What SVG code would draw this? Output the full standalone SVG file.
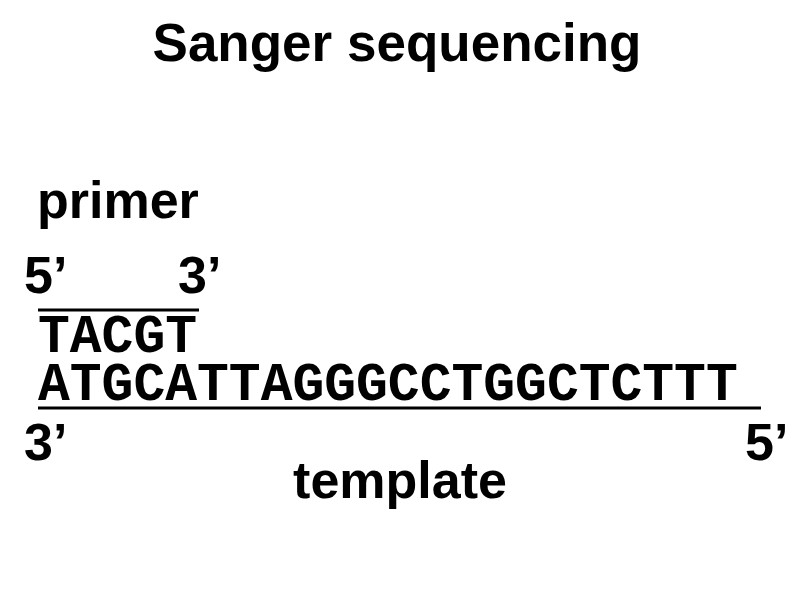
<svg xmlns="http://www.w3.org/2000/svg" width="800" height="600" viewBox="0 0 800 600">
<style>
.lbl{font-family:"Liberation Sans",Arial,sans-serif;font-weight:bold;font-size:52px;fill:#000}
.ttl{font-size:53px}
.seq{font-family:"Liberation Mono","Courier New",monospace;font-weight:bold;font-size:53px;fill:#000}
.strand{stroke:#000;stroke-width:3;fill:none}
</style>
<rect width="800" height="600" fill="#fff"/>
<text class="lbl ttl" x="397" y="61" text-anchor="middle">Sanger sequencing</text>
<g id="primer">
<text class="lbl" x="37" y="218">primer</text>
<text class="lbl" x="24" y="293">5’</text>
<text class="lbl" x="178" y="293">3’</text>
<line class="strand" x1="38" y1="310" x2="199" y2="310"/>
<text class="seq" x="38" y="352">TACGT</text>
</g>
<g id="template">
<text class="seq" x="38" y="400">ATGCATTAGGGCCTGGCTCTTT</text>
<line class="strand" x1="38" y1="408" x2="761" y2="408"/>
<text class="lbl" x="24" y="460">3’</text>
<text class="lbl" x="745" y="460">5’</text>
<text class="lbl" x="400" y="498" text-anchor="middle">template</text>
</g>
</svg>
